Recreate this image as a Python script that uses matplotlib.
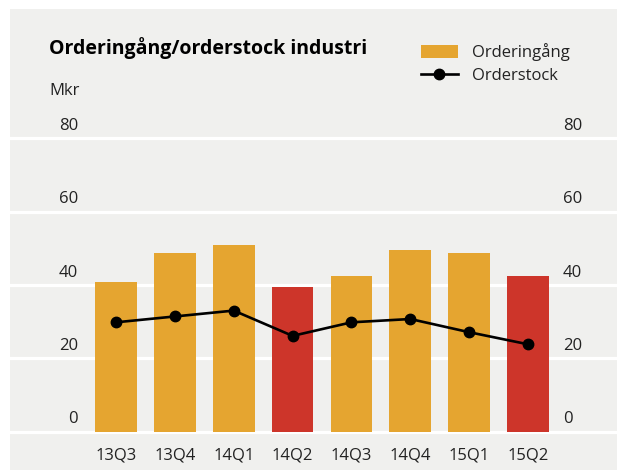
import matplotlib
matplotlib.use("Agg")
import matplotlib.pyplot as plt
import matplotlib.transforms as mtransforms
from matplotlib.patches import Patch
from matplotlib.lines import Line2D

# data
quarters = ["13Q3", "13Q4", "14Q1", "14Q2", "14Q3", "14Q4", "15Q1", "15Q2"]
orderingang = [40.8, 48.6, 50.8, 39.5, 42.4, 49.4, 48.6, 42.4]
orderstock = [29.8, 31.4, 33.0, 26.1, 29.8, 30.7, 27.1, 23.8]
highlight = ["14Q2", "15Q2"]
yticks = [0, 20, 40, 60, 80]

orange = "#e5a530"
red = "#cd352a"
panel = "#f0f0ee"
txt = "#222222"

plt.rcParams["font.family"] = ["Open Sans", "DejaVu Sans"]

W, H = 617, 470
fig = plt.figure(figsize=(W / 100, H / 100), dpi=100)
fig.patch.set_facecolor("white")

# the axes is the gray panel itself
ax = fig.add_axes([10 / W, 0, 607 / W, 1 - 9 / H])
ax.set_facecolor(panel)
ax.set_xlim(-1.80, 8.51)
ax.set_ylim(-10.5, 115.3)
for s in ax.spines.values():
    s.set_visible(False)

for v in yticks:
    ax.axhline(v, color="white", lw=2.3, zorder=1)

x = list(range(len(quarters)))
colors = [red if q in highlight else orange for q in quarters]
ax.bar(x, orderingang, width=0.71, color=colors, zorder=2)
ax.plot(x, orderstock, color="black", lw=1.9, marker="o", ms=7.5, zorder=3)

ax.set_xticks(x)
ax.set_xticklabels(quarters)
ax.set_yticks([])
ax.tick_params(axis="x", length=0, direction="in", pad=-16.5, labelsize=12, labelcolor=txt)
for lab in ax.get_xticklabels():
    lab.set_verticalalignment("top")

# y labels sit just above their grid lines, on both sides
off = mtransforms.ScaledTranslation(0, 3 / 72, fig.dpi_scale_trans)
tr = ax.get_yaxis_transform() + off
for v in yticks:
    ax.text(0.112, v, str(v), transform=tr, ha="right", va="bottom", fontsize=12, color=txt)
    ax.text(0.911, v, str(v), transform=tr, ha="left", va="bottom", fontsize=12, color=txt)

fig.text(49 / W, 1 - 48 / H, "Orderingång/orderstock industri", fontsize=14, fontweight="bold",
         color="black", va="center", ha="left")
fig.text(49 / W, 1 - 91 / H, "Mkr", fontsize=12, color=txt, va="center", ha="left")

handles = [Patch(facecolor=orange, edgecolor="none"),
           Line2D([], [], color="black", lw=1.9, marker="o", ms=7.5)]
fig.legend(handles, ["Orderingång", "Orderstock"], loc="upper left",
           bbox_to_anchor=(421 / W, 1 - 43 / H), frameon=False, fontsize=12,
           handlelength=2.2, handleheight=0.8, handletextpad=0.85, labelspacing=0.4,
           labelcolor=txt, borderpad=0, borderaxespad=0)

fig.savefig("out.png", dpi=100)
